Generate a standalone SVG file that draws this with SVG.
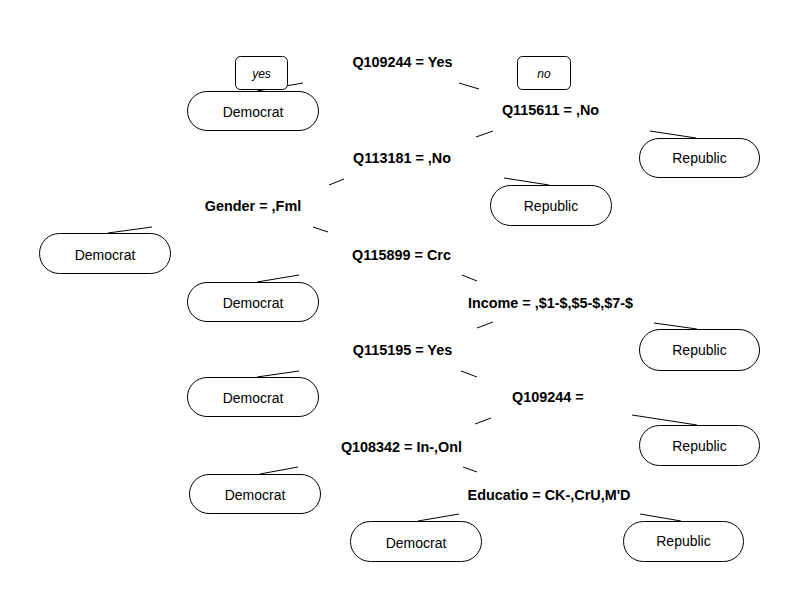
<svg xmlns="http://www.w3.org/2000/svg" width="800" height="601" viewBox="0 0 800 601">
<style>
.c{stroke:#000;stroke-width:1;fill:none}
.leaf{fill:#fff;stroke:#000;stroke-width:1}
.box{fill:#fff;stroke:#000;stroke-width:1}
.lt{font-family:"Liberation Sans",Arial,sans-serif;font-size:14px;fill:#000;text-anchor:middle}
.dt{font-family:"Liberation Sans",Arial,sans-serif;font-size:14.4px;font-weight:bold;fill:#000;text-anchor:middle}
.bt{font-family:"Liberation Sans",Arial,sans-serif;font-size:12px;font-style:italic;fill:#000;text-anchor:middle}
</style>
<rect width="800" height="601" fill="#fff"/>
<g id="connectors">
<line class="c" x1="459" y1="83" x2="479" y2="89"/>
<line class="c" x1="476" y1="137" x2="493" y2="131"/>
<line class="c" x1="329" y1="185" x2="344" y2="179"/>
<line class="c" x1="313" y1="227" x2="328" y2="232"/>
<line class="c" x1="462" y1="275" x2="477" y2="281"/>
<line class="c" x1="477" y1="328" x2="493" y2="322"/>
<line class="c" x1="461" y1="371" x2="477" y2="377"/>
<line class="c" x1="475" y1="424" x2="491" y2="418"/>
<line class="c" x1="463" y1="467" x2="477" y2="472"/>
<line class="c" x1="257" y1="91" x2="303" y2="83"/>
<line class="c" x1="650" y1="131" x2="696" y2="138"/>
<line class="c" x1="504" y1="178" x2="549" y2="185"/>
<line class="c" x1="108" y1="233" x2="152" y2="227"/>
<line class="c" x1="257" y1="282" x2="299" y2="275"/>
<line class="c" x1="654" y1="323" x2="697" y2="329"/>
<line class="c" x1="257" y1="377" x2="299" y2="371"/>
<line class="c" x1="632" y1="415" x2="697" y2="425"/>
<line class="c" x1="260" y1="474" x2="298" y2="467"/>
<line class="c" x1="418" y1="521" x2="459" y2="514"/>
<line class="c" x1="640" y1="514" x2="681" y2="521"/>
</g>
<g id="n1"><text class="dt" x="402.5" y="67">Q109244 = Yes</text></g>
<g id="yesbox"><rect class="box" x="235.5" y="56.5" width="52" height="33" rx="5"/><text class="bt" x="261.5" y="78">yes</text></g>
<g id="nobox"><rect class="box" x="517.5" y="56.5" width="53" height="33" rx="5"/><text class="bt" x="544" y="78">no</text></g>
<g id="leaf1"><rect class="leaf" x="187.5" y="91.5" width="131" height="39" rx="19.5"/><text class="lt" x="253" y="117">Democrat</text></g>
<g id="n2"><text class="dt" x="550.5" y="115">Q115611 = ,No</text></g>
<g id="leaf2"><rect class="leaf" x="639.5" y="138.5" width="120" height="39" rx="19.5"/><text class="lt" x="699.5" y="163">Republic</text></g>
<g id="n3"><text class="dt" x="402" y="163">Q113181 = ,No</text></g>
<g id="leaf3"><rect class="leaf" x="490.5" y="185.5" width="121" height="40" rx="20"/><text class="lt" x="551" y="211">Republic</text></g>
<g id="n4"><text class="dt" x="253" y="211">Gender = ,Fml</text></g>
<g id="leaf4"><rect class="leaf" x="39.5" y="233.5" width="131" height="40" rx="20"/><text class="lt" x="105" y="260">Democrat</text></g>
<g id="n5"><text class="dt" x="401.5" y="260">Q115899 = Crc</text></g>
<g id="leaf5"><rect class="leaf" x="187.5" y="282.5" width="131" height="39" rx="19.5"/><text class="lt" x="253" y="308">Democrat</text></g>
<g id="n6"><text class="dt" x="550.5" y="308">Income = ,$1-$,$5-$,$7-$</text></g>
<g id="leaf6"><rect class="leaf" x="639.5" y="329.5" width="120" height="41" rx="20.5"/><text class="lt" x="699.5" y="355">Republic</text></g>
<g id="n7"><text class="dt" x="402.5" y="355">Q115195 = Yes</text></g>
<g id="leaf7"><rect class="leaf" x="187.5" y="377.5" width="131" height="39" rx="19.5"/><text class="lt" x="253" y="403">Democrat</text></g>
<g id="n8"><text class="dt" x="512" y="402" style="text-anchor:start">Q109244 =</text></g>
<g id="leaf8"><rect class="leaf" x="639.5" y="425.5" width="120" height="40" rx="20"/><text class="lt" x="699.5" y="451">Republic</text></g>
<g id="n9"><text class="dt" x="401.5" y="452">Q108342 = In-,Onl</text></g>
<g id="leaf9"><rect class="leaf" x="189.5" y="474.5" width="131" height="39" rx="19.5"/><text class="lt" x="255" y="500">Democrat</text></g>
<g id="n10"><text class="dt" x="549" y="500">Educatio = CK-,CrU,M'D</text></g>
<g id="leaf10"><rect class="leaf" x="350.5" y="521.5" width="131" height="40" rx="20"/><text class="lt" x="416" y="548">Democrat</text></g>
<g id="leaf11"><rect class="leaf" x="623.5" y="521.5" width="120" height="40" rx="20"/><text class="lt" x="683.5" y="546">Republic</text></g>
</svg>
